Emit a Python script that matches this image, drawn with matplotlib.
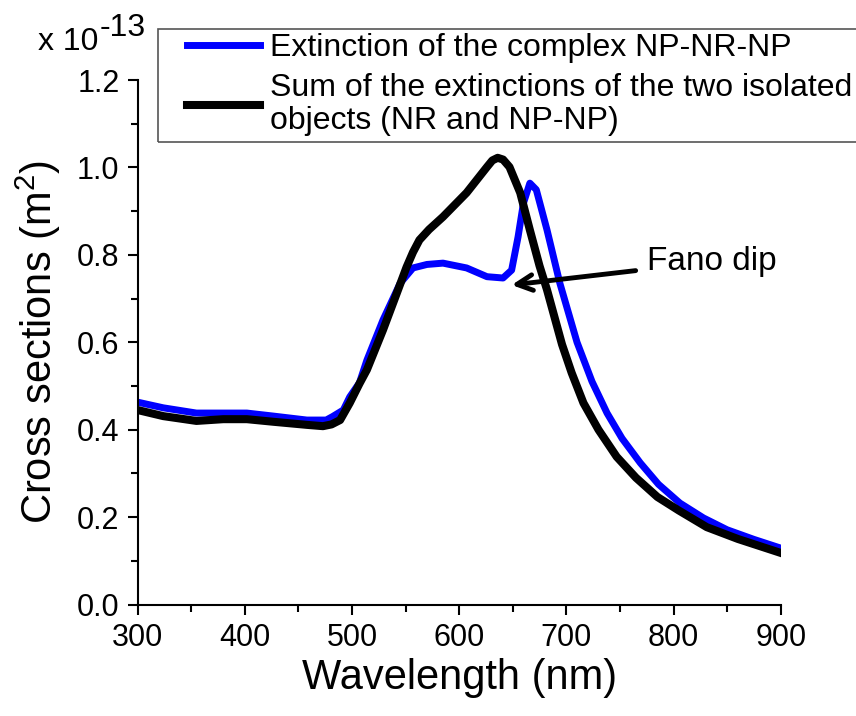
import numpy as np
import matplotlib.pyplot as plt
from matplotlib.patches import Rectangle

plt.rcParams['font.family'] = ['Liberation Sans', 'DejaVu Sans']

# wavelength (nm) and cross sections (x 1e-13 m^2)
wl_np = [300, 324, 355, 380, 402, 427, 458, 476, 482, 492, 498, 507, 514, 529, 545,
         557, 570, 585, 607, 626, 641, 649, 655, 660, 666, 672, 682, 694, 710, 724,
         738, 752, 769, 786, 806, 828, 850, 875, 900]
ext_np = [0.463, 0.45, 0.438, 0.438, 0.438, 0.431, 0.422, 0.422, 0.43, 0.445, 0.475,
          0.507, 0.559, 0.651, 0.735, 0.770, 0.778, 0.781, 0.770, 0.750, 0.747, 0.765,
          0.841, 0.918, 0.964, 0.949, 0.857, 0.735, 0.60, 0.51, 0.438, 0.38, 0.324,
          0.275, 0.232, 0.198, 0.171, 0.149, 0.129]

wl_sum = [300, 324, 355, 380, 402, 427, 458, 473, 481, 489, 498, 507, 514, 529, 542,
          551, 557, 563, 572, 585, 607, 626, 631, 636, 641, 647, 657, 666, 675, 682,
          696, 705, 716, 730, 747, 765, 785, 805, 831, 860, 900]
ext_sum = [0.445, 0.431, 0.42, 0.424, 0.424, 0.418, 0.411, 0.408, 0.412, 0.422, 0.461,
           0.505, 0.537, 0.628, 0.713, 0.772, 0.806, 0.834, 0.858, 0.887, 0.942, 1.001,
           1.016, 1.022, 1.018, 1.001, 0.942, 0.857, 0.775, 0.72, 0.595, 0.53, 0.461,
           0.40, 0.338, 0.29, 0.246, 0.215, 0.177, 0.15, 0.118]

labels = ['Extinction of the complex NP-NR-NP',
          'Sum of the extinctions of the two isolated\nobjects (NR and NP-NP)']

fig = plt.figure(figsize=(8.56, 7.16), dpi=100)
ax = fig.add_axes([137.5/856, 111.5/716, 643.2/856, 524.5/716])

l1, = ax.plot(wl_np, ext_np, color='#0000ff', lw=5, solid_joinstyle='round')
l2, = ax.plot(wl_sum, ext_sum, color='black', lw=5.8, solid_joinstyle='round')

ax.set_xlim(300, 900)
ax.set_ylim(0, 1.2)
ax.set_xticks(np.arange(300, 901, 100))
ax.set_xticks(np.arange(350, 900, 100), minor=True)
ax.set_yticks(np.arange(0, 1.21, 0.2))
ax.set_yticks(np.arange(0.1, 1.2, 0.2), minor=True)
ax.yaxis.set_major_formatter(plt.FormatStrFormatter('%.1f'))
ax.spines['top'].set_visible(False)
ax.spines['right'].set_visible(False)
for s in ['left', 'bottom']:
    ax.spines[s].set_linewidth(1.5)
ax.tick_params(which='major', direction='out', length=7, width=1.5, labelsize=22, pad=6)
ax.tick_params(which='minor', direction='out', length=5, width=1.5)

ax.set_xlabel('Wavelength (nm)', fontsize=30, labelpad=4)
ax.set_ylabel('Cross sections (m$^\\mathregular{2}$)', fontsize=30, labelpad=10)

fig.text(38/856, 1 - 50/716, 'x 10', fontsize=23, ha='left', va='baseline')
fig.text(100/856, 1 - 36/716, '-13', fontsize=23, ha='left', va='baseline')

ax.annotate('Fano dip', xy=(649, 0.731), xytext=(775, 0.784), fontsize=24,
            ha='left', va='center',
            arrowprops=dict(arrowstyle='->', lw=3.5, color='black', mutation_scale=28,
                            shrinkA=6, shrinkB=0))

# legend box runs off the right edge of the figure
fig.patches.append(Rectangle((158/856, 1 - 142/716), 0.9, 113/716, transform=fig.transFigure,
                             fill=False, edgecolor='#555555', lw=1.2))
leg = fig.legend([l1, l2], labels, loc='upper left', bbox_to_anchor=(187/856, 1 - 33/716),
                 fontsize=23, frameon=False, handlelength=2.3,
                 handletextpad=0.3, borderpad=0, labelspacing=0.3, borderaxespad=0)
leg.get_texts()[1].set_linespacing(1.15)

fig.savefig('out.png', dpi=100)
